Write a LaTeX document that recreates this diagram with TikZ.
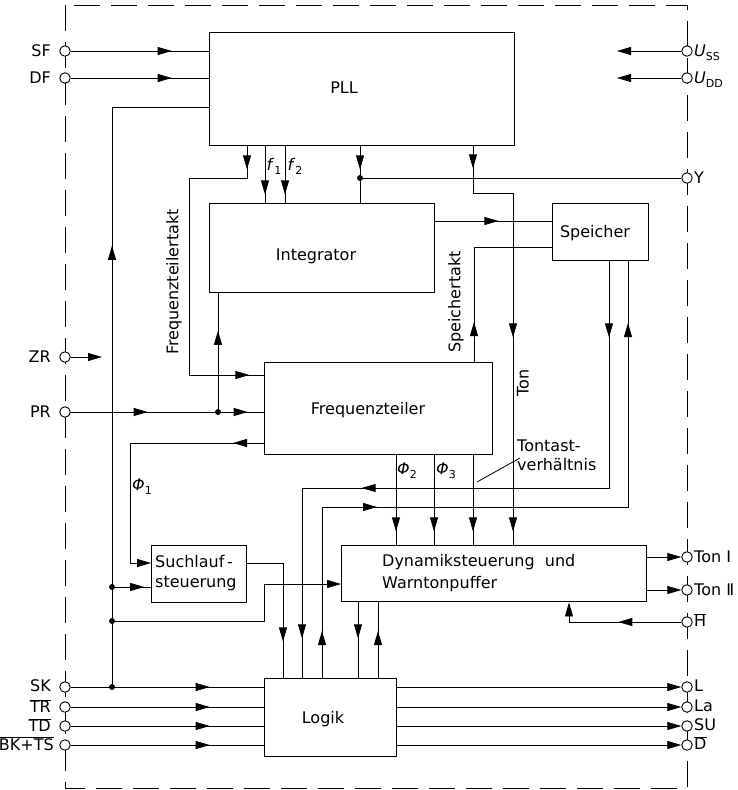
\documentclass[tikz,border=0pt]{standalone}
\usepackage{fontspec}
\setmainfont{DejaVu Sans}
\usetikzlibrary{arrows.meta,decorations.markings}
\newcommand\mysub[1]{\raisebox{-0.45ex}{\fontsize{11}{11}\selectfont #1}}
\newcommand\ovl[1]{$\overline{\hbox{#1}}$}
\tikzset{
  tri/.tip={Triangle[length=14pt,width=8pt]},
  ma/.style={postaction={decorate,decoration={markings,mark=at position #1 with {\arrow{tri}}}}},
  blk/.style={draw,line width=1.4pt,inner sep=0pt,anchor=north west},
  pinc/.style={circle,draw,fill=white,inner sep=0pt,minimum size=10.5pt,line width=0.9pt},
  dot/.style={circle,fill,inner sep=0pt,minimum size=6pt},
  wire/.style={line width=0.8pt},
  txt/.style={inner sep=0pt,font=\fontsize{16}{21}\selectfont},
}
\begin{document}
\begin{tikzpicture}[x=1pt,y=-1pt]
\useasboundingbox (0,0) rectangle (737,790);
% border
\draw[line width=0.8pt,dash pattern=on 26pt off 11pt] (65,5) rectangle (687,788);
% blocks
\node[blk,minimum width=305pt,minimum height=113pt] (PLL) at (209,32) {};
\node[blk,minimum width=225pt,minimum height=89pt] (INT) at (209,203) {};
\node[blk,minimum width=96pt,minimum height=57pt] (SP) at (552,203) {};
\node[blk,minimum width=228pt,minimum height=92pt] (FT) at (264,362) {};
\node[blk,minimum width=95pt,minimum height=57pt] (SL) at (151,545) {};
\node[blk,minimum width=305pt,minimum height=56pt] (DY) at (341,545) {};
\node[blk,minimum width=132pt,minimum height=78pt] (LO) at (264,678) {};
% block texts
\node[txt] (tPLL) at (344,88) {PLL};
\node[txt] (tINT) at (316,256) {Integrator};
\node[txt] (tSP) at (595,233) {Speicher};
\node[txt] (tFT) at (368,410) {Frequenzteiler};
\node[txt,anchor=west,align=left,font=\fontsize{16}{20}\selectfont] (tSL) at (155,573) {Suchlauf\,-\\steuerung};
\node[txt,anchor=west,align=left,font=\fontsize{16}{22}\selectfont] (tDY) at (382,573) {Dynamiksteuerung\ \ und\\Warntonpuffer};
\node[txt] (tLO) at (323,719) {Logik};
% pins
\foreach \n/\y in {SF/51,DF/78,ZR/357,PR/412,SK/687,TR/707,TD/726,BKTS/745}
  \node[pinc] (\n) at (65,\y) {};
\foreach \n/\y in {USS/51,UDD/78,Y/178,TONA/557,TONB/590,HB/622,L/687,LA/707,SU/726,DB/745}
  \node[pinc] (\n) at (687,\y) {};
% pin labels
\node[txt,anchor=east] (lSF) at (51,51) {SF};
\node[txt,anchor=east] (lDF) at (51,78) {DF};
\node[txt,anchor=east] (lZR) at (51,357) {ZR};
\node[txt,anchor=east] (lPR) at (51,412) {PR};
\node[txt,anchor=east] (lSK) at (51,686) {SK};
\node[txt,anchor=east] (lTR) at (51,706) {\ovl{TR}};
\node[txt,anchor=east] (lTD) at (51,725) {\ovl{TD}};
\node[txt,anchor=east] (lBK) at (54,744) {\ovl{BK+TS}};
\node[txt,anchor=west] (lUSS) at (694,53) {\textit{U}\mysub{SS}};
\node[txt,anchor=west] (lUDD) at (694,80) {\textit{U}\mysub{DD}};
\node[txt,anchor=west] (lY) at (694,178) {Y};
\node[txt,anchor=west] (lTA) at (694,557) {Ton Ⅰ};
\node[txt,anchor=west] (lTB) at (694,590) {Ton Ⅱ};
\node[txt,anchor=west] (lH) at (694,620) {\ovl{H}};
\node[txt,anchor=west] (lL) at (694,686) {L};
\node[txt,anchor=west] (lLA) at (694,706) {La};
\node[txt,anchor=west] (lSU) at (694,725) {SU};
\node[txt,anchor=west] (lD) at (694,743) {\ovl{D}};
% helper x/y coordinates
\coordinate (xa) at (247,0);
\coordinate (xf1) at (265,0);
\coordinate (xf2) at (285,0);
\coordinate (xton) at (473,0);
\coordinate (xton2) at (513,0);
\coordinate (xsp) at (474,0);
\coordinate (xs1) at (609,0);
\coordinate (xs2) at (628,0);
\coordinate (xsl) at (283,0);
\coordinate (xl1) at (302,0);
\coordinate (xl2) at (322,0);
\coordinate (xd1) at (358,0);
\coordinate (xd2) at (378,0);
\coordinate (xp2) at (396,0);
\coordinate (xp3) at (434,0);
\coordinate (xp4) at (473,0);
\coordinate (xh) at (569,0);
\coordinate (yts) at (0,375);
\coordinate (yphi) at (0,443);
\coordinate (ysl1) at (0,563);
\coordinate (ypll) at (0,107);
\coordinate (ydy) at (0,584);
\coordinate (zre) at (102,357);
\coordinate (usse) at (617,51);
\coordinate (udde) at (617,78);
% dots
\node[dot] (dY) at (360,178) {};
\node[dot] (dPR) at (218,412) {};
\node[dot] (dSK) at (112,687) {};
\node[dot] (dB1) at (112,587) {};
\node[dot] (dB2) at (112,621) {};
% connectors
\draw[wire,ma=101pt] (SF) -- (SF -| PLL.west);
\draw[wire,ma=101pt] (DF) -- (DF -| PLL.west);
\draw[wire,-{tri}] (ZR) -- (zre);
\draw[wire,ma=77pt,ma=177pt] (PR) -- (PR -| FT.west);
\draw[wire,ma=78pt] (dPR) -- (dPR |- INT.south);
\draw[wire,-{tri}] (USS) -- (usse);
\draw[wire,-{tri}] (UDD) -- (udde);
% Frequenzteilertakt
\draw[wire,ma=23pt,ma=347pt] (PLL.south -| xa) -- (247,178) -- (189,178) -- (189,375) -- (FT.west |- yts);
\node[txt,rotate=90] (tFTT) at (174,282) {Frequenzteilertakt};
% f1 f2
\draw[wire,ma=48pt] (PLL.south -| xf1) -- (INT.north -| xf1);
\draw[wire,ma=48pt] (PLL.south -| xf2) -- (INT.north -| xf2);
\node[txt] (tf1) at (274,166) {\textit{f}\mysub{1}};
\node[txt] (tf2) at (295,166) {\textit{f}\mysub{2}};
% Y
\draw[wire,ma=23pt] (PLL.south -| dY) -- (dY);
\draw[wire] (dY) -- (INT.north -| dY);
\draw[wire] (dY) -- (Y);
% Ton
\draw[wire,ma=22pt,ma=231pt,ma=425pt] (PLL.south -| xton) -- (473,193) -- (513,193) -- (DY.north -| xton2);
\node[txt,rotate=90] (tTon) at (523,383) {Ton};
% Integrator -> Speicher
\draw[wire,ma=63pt] ([yshift=-18pt]INT.north east) -- ([yshift=-18pt]SP.north west);
% Speichertakt
\draw[wire,ma=40pt] (FT.north -| xsp) -- (474,247) -- ([yshift=-44pt]SP.north west);
\node[txt,rotate=90] (tST) at (456,302) {Speichertakt};
% Speicher <-> Logik
\draw[wire,ma=76pt,ma=474pt,ma=684pt] (SP.south -| xs1) -- (609,488) -- (302,488) -- (LO.north -| xl1);
\draw[wire,ma=47pt,ma=226pt,ma=661pt] (LO.north -| xl2) -- (322,507) -- (628,507) -- (SP.south -| xs2);
% Phi1
\draw[wire,ma=31pt,-{tri}] (FT.west |- yphi) -- (130,443) -- (130,563) -- (SL.west |- ysl1);
\node[txt] (tP1) at (142,487) {\textit{Φ}\mysub{1}};
% SK bus
\draw[wire,ma=438pt] (dSK) -- (112,107) -- (PLL.west |- ypll);
\draw[wire,ma=29pt] (dB1) -- (SL.west |- dB1);
\draw[wire,-{tri}] (dB2) -- (264,621) -- (264,584) -- (DY.west |- ydy);
% Suchlauf -> Logik
\draw[wire,ma=114pt] (SL.east |- ysl1) -- (283,563) -- (LO.north -| xsl);
% Dynamik <-> Logik
\draw[wire,ma=36pt] (DY.south -| xd1) -- (LO.north -| xd1);
\draw[wire,ma=47pt] (LO.north -| xd2) -- (DY.south -| xd2);
% Frequenzteiler -> Dynamik
\foreach \x in {xp2,xp3,xp4}
  \draw[wire,ma=76pt] (FT.south -| \x) -- (DY.north -| \x);
\node[txt] (tP2) at (407,471) {\textit{Φ}\mysub{2}};
\node[txt] (tP3) at (446,471) {\textit{Φ}\mysub{3}};
% Tontastverhaeltnis
\node[txt,anchor=north west,align=left,font=\fontsize{16}{19}\selectfont] (tTT) at (517,440) {Tontast-\\verhältnis};
\coordinate (ld1) at (477,482);
\coordinate (ld2) at (520,458);
\draw[wire] (ld1) -- (ld2);
% Dynamik outputs
\draw[wire,-{tri}] (DY.east |- TONA) -- (TONA);
\draw[wire,-{tri}] (DY.east |- TONB) -- (TONB);
\draw[wire,ma=63pt,-{tri}] (HB) -- (569,622) -- (DY.south -| xh);
% Logik inputs/outputs
\foreach \n in {SK,TR,TD,BKTS}
  \draw[wire,ma=139pt] (\n) -- (\n -| LO.west);
\foreach \n in {L,LA,SU,DB}
  \draw[wire,-{tri}] (\n -| LO.east) -- (\n);
\end{tikzpicture}
\end{document}
